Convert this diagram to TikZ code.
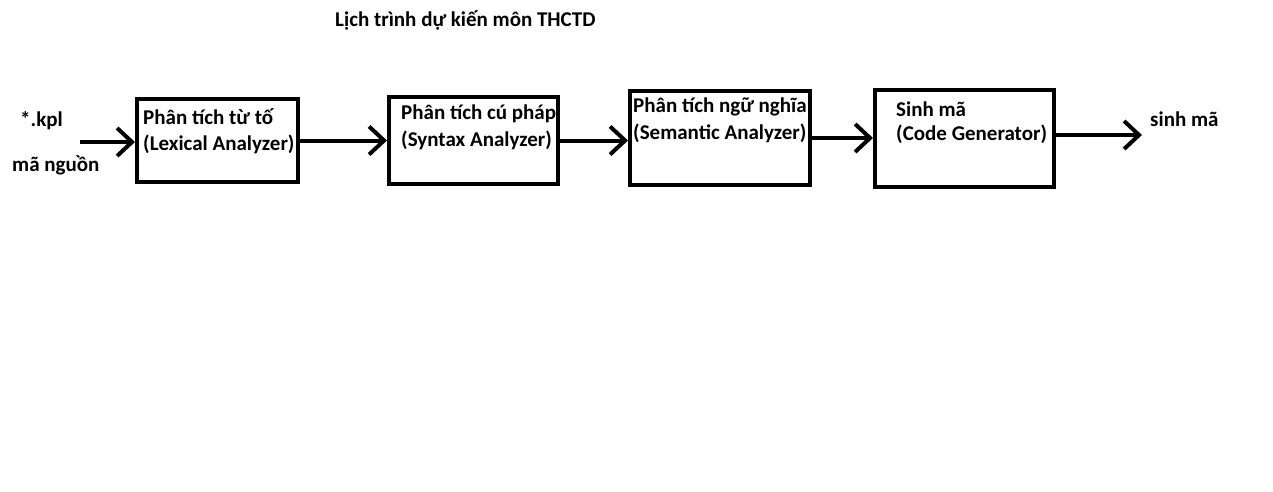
\documentclass[tikz,border=0pt]{standalone}
\usepackage{fontspec}
\setmainfont{Carlito}
\usetikzlibrary{arrows.meta}
\tikzset{
  box/.style={draw=black, line width=4pt, rectangle, inner sep=0pt},
  lbl/.style={anchor=west, inner sep=0pt, font=\fontsize{21}{24}\selectfont\bfseries},
  conn/.style={draw=black, line width=4pt, -{Straight Barb[length=15pt,width=28pt,line width=4pt]}},
}
\begin{document}
\begin{tikzpicture}[x=1pt,y=-1pt]
\useasboundingbox[fill=white] (0,0) rectangle (1273,491);
% title
\node[lbl] (title) at (335,20) {Lịch trình dự kiến môn THCTD};
% boxes
\node[box, minimum width=161pt, minimum height=83pt] (b1) at (217.5,140.5) {};
\node[box, minimum width=169pt, minimum height=87pt] (b2) at (473.5,140.5) {};
\node[box, minimum width=180pt, minimum height=94pt] (b3) at (720,138) {};
\node[box, minimum width=179pt, minimum height=97pt] (b4) at (964.5,138) {};
% box texts
\node[lbl] (t1a) at (143,117) {Phân tích từ tố};
\node[lbl] (t1b) at (143,144) {(Lexical Analyzer)};
\node[lbl] (t2a) at (401,114) {Phân tích cú pháp};
\node[lbl] (t2b) at (401,140) {(Syntax Analyzer)};
\node[lbl] (t3a) at (633,107) {Phân tích ngữ nghĩa};
\node[lbl] (t3b) at (633,133) {(Semantic Analyzer)};
\node[lbl] (t4a) at (896,109) {Sinh mã};
\node[lbl] (t4b) at (896,134) {(Code Generator)};
% outside labels
\node[lbl] (src1) at (20,121) {*.kpl};
\node[lbl] (src2) at (12,165) {mã nguồn};
\node[lbl] (dst) at (1150,119) {sinh mã};
% connector ends
\coordinate (in) at (80,142);
\coordinate (out) at (1142,135);
% connectors
\draw[conn] (in) -- (in -| b1.west);
\draw[conn] (b1.east) -- (b2.west);
\draw[conn] (b2.east) -- (b2.east -| b3.west);
\draw[conn] (b3.east) -- (b3.east -| b4.west);
\draw[conn] (b4.east |- out) -- (out);
\end{tikzpicture}
\end{document}
